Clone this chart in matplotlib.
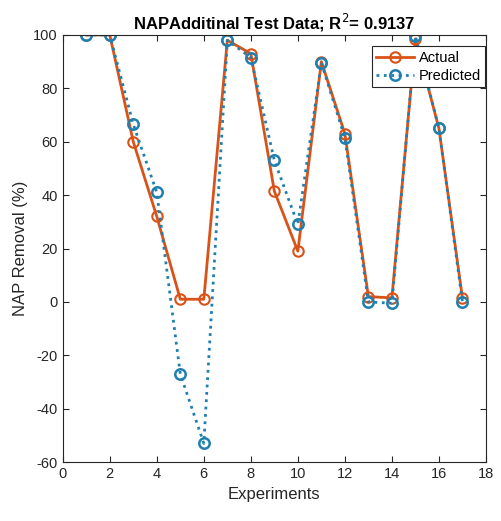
import numpy as np
import matplotlib
matplotlib.use("Agg")
from matplotlib import pyplot as plt

plt.rcParams['font.family'] = ['Liberation Sans', 'DejaVu Sans']
plt.rcParams['axes.unicode_minus'] = False

experiments = [1, 2, 3, 4, 5, 6, 7, 8, 9, 10, 11, 12, 13, 14, 15, 16, 17]
actual = [100, 100, 60, 32, 1, 1, 98, 93, 41.5, 19, 90, 63, 2, 1.5, 98.5, 65, 1.5]
predicted = [100, 100, 66.5, 41, -27, -53, 98, 91.5, 53, 29, 89.5, 61.5, 0, -0.5, 99.5, 65, 0]
x_ticks = np.arange(0, 19, 2)
y_ticks = np.arange(-60, 101, 20)

fig = plt.figure(figsize=(5.02, 5.21), dpi=100)
ax = fig.add_axes([0.125, 0.113, 0.843, 0.82])

ax.plot(experiments, actual, '-o', color='#D95319', lw=2, ms=7.5, mfc='none',
        mew=1.5, label='Actual')
ax.plot(experiments, predicted, ':o', color='#1f80b0', lw=2, ms=7.5, mfc='none',
        mew=1.8, label='Predicted')

ax.set_xlim(0, 18)
ax.set_ylim(-60, 100)
ax.set_xticks(x_ticks)
ax.set_yticks(y_ticks)
ax.tick_params(direction='in', top=True, right=True, labelsize=10.5,
               colors='#262626', length=4)
for s in ax.spines.values():
    s.set_color('#262626')
    s.set_linewidth(0.8)

ax.set_xlabel('Experiments', fontsize=12, color='#262626')
ax.set_ylabel('NAP Removal (%)', fontsize=12, color='#262626')
ax.set_title('NAPAdditinal Test Data; R$^2$= 0.9137', fontsize=12,
             fontweight='bold', pad=4)

leg = ax.legend(loc='upper right', bbox_to_anchor=(1.005, 0.98), fontsize=10.5,
                fancybox=False, edgecolor='#262626', handlelength=2.6,
                borderpad=0.3, labelspacing=0.3, handletextpad=0.3,
                borderaxespad=0.2, framealpha=1)
leg.get_frame().set_linewidth(0.8)

fig.savefig('out.png', dpi=100)
